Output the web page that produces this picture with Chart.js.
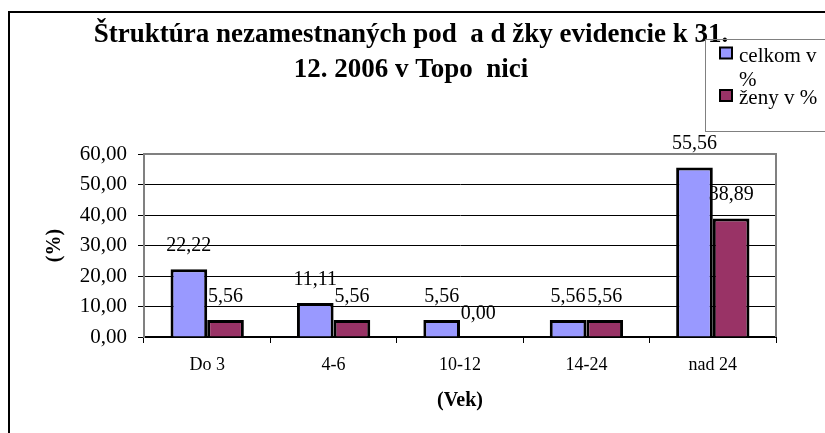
<!DOCTYPE html>
<html lang="sk">
<head>
  <meta charset="UTF-8" />
  <title>Štruktúra nezamestnaných</title>
  <script src="https://cdn.jsdelivr.net/npm/chart.js"></script>
  <style>
    body { margin: 0; background: #FFFFFF; }
    canvas { display: block; }
  </style>
</head>
<body>
  <canvas id="vekChart" width="825" height="433"></canvas>

  <script>
    const categories = ['Do 3', '4-6', '10-12', '14-24', 'nad 24'];
    const celkom = [22.22, 11.11, 5.56, 5.56, 55.56];
    const zeny = [5.56, 5.56, 0.00, 5.56, 38.89];
    const yTicks = [0, 10, 20, 30, 40, 50, 60];
    const titleLines = ['Štruktúra nezamestnaných pod  a d žky evidencie k 31.', '12. 2006 v Topo  nici'];

    const SERIF = "'Liberation Serif', 'Times New Roman', serif";
    const fmt = v => v.toFixed(2).replace('.', ',');

    // outer frame of the chart object + plot area border
    const framePlugin = {
      id: 'frame',
      beforeDraw(chart) {
        const ctx = chart.ctx;
        ctx.save();
        ctx.strokeStyle = '#000';
        ctx.lineWidth = 2;
        ctx.strokeRect(9, 12, 900, 500);
        ctx.restore();
      },
      beforeDatasetsDraw(chart) {
        const { ctx, chartArea: a } = chart;
        ctx.save();
        ctx.strokeStyle = '#808080';
        ctx.lineWidth = 2;
        ctx.beginPath();
        ctx.moveTo(a.left, a.top);
        ctx.lineTo(a.right, a.top);
        ctx.lineTo(a.right, a.bottom);
        ctx.stroke();
        ctx.restore();
      }
    };

    // value labels above bars
    const valueLabels = {
      id: 'valueLabels',
      afterDatasetsDraw(chart) {
        const ctx = chart.ctx;
        ctx.save();
        ctx.font = '20px ' + SERIF;
        ctx.fillStyle = '#000';
        ctx.textAlign = 'center';
        ctx.textBaseline = 'alphabetic';
        chart.data.datasets.forEach((ds, i) => {
          chart.getDatasetMeta(i).data.forEach((bar, j) => {
            ctx.fillText(fmt(ds.data[j]), bar.x, bar.y - 18.5);
          });
        });
        ctx.restore();
      }
    };

    // boxed legend at top right, wrapping its text like the original
    const boxLegend = {
      id: 'boxLegend',
      afterDraw(chart) {
        const ctx = chart.ctx;
        ctx.save();
        ctx.strokeStyle = '#808080';
        ctx.lineWidth = 1;
        ctx.strokeRect(705.5, 39.5, 140, 92);
        ctx.font = '21px ' + SERIF;
        ctx.textBaseline = 'alphabetic';
        ctx.fillStyle = '#000';
        const baselines = [61.5, 104];
        chart.data.datasets.forEach((ds, i) => {
          // wrap words to the space left inside the box
          const words = ds.label.split(' ');
          const lines = [];
          let cur = '';
          words.forEach(w => {
            const t = cur ? cur + ' ' + w : w;
            if (ctx.measureText(t).width > 84 && cur) { lines.push(cur); cur = w; }
            else cur = t;
          });
          lines.push(cur);
          const y = baselines[i];
          ctx.fillStyle = ds.backgroundColor;
          ctx.fillRect(720, y - 14, 12, 11);
          ctx.strokeStyle = '#000';
          ctx.lineWidth = 2;
          ctx.strokeRect(720, y - 14, 12, 11);
          ctx.fillStyle = '#000';
          lines.forEach((l, k) => ctx.fillText(l, 739, y + k * 24.5));
        });
        ctx.restore();
      }
    };

    new Chart(document.getElementById('vekChart'), {
      type: 'bar',
      data: {
        labels: categories,
        datasets: [
          { label: 'celkom v %', data: celkom, backgroundColor: '#9999FF', borderColor: '#000', borderWidth: 3 },
          { label: 'ženy v %', data: zeny, backgroundColor: '#993366', borderColor: '#000', borderWidth: 3 }
        ]
      },
      options: {
        responsive: false,
        animation: false,
        layout: { padding: { left: 46, right: 49, top: 0, bottom: 0 } },
        datasets: { bar: { categoryPercentage: 0.58, barPercentage: 1 } },
        plugins: {
          legend: { display: false },
          tooltip: { enabled: false },
          title: {
            display: true,
            text: titleLines,
            color: '#000',
            font: { family: SERIF, size: 27, weight: 'bold', lineHeight: 1.3 },
            padding: { top: 17, bottom: 66.8 }
          }
        },
        scales: {
          x: {
            afterFit: s => { s.height = 96; },
            grid: { drawOnChartArea: false, drawTicks: true, tickLength: 6, color: '#000' },
            border: { color: '#000', width: 2 },
            ticks: { color: '#000', padding: 11, font: { family: SERIF, size: 18 } },
            title: {
              display: true, text: '(Vek)', color: '#000',
              font: { family: SERIF, size: 20, weight: 'bold' },
              padding: { top: 0, bottom: 20 }
            }
          },
          y: {
            min: 0,
            max: 60,
            afterFit: s => { s.width = 98; },
            afterBuildTicks: s => { s.ticks = yTicks.map(v => ({ value: v })); },
            grid: { color: '#000', lineWidth: 1, tickLength: 6 },
            border: { color: '#808080', width: 2 },
            ticks: { color: '#000', padding: 11, font: { family: SERIF, size: 21 }, callback: v => fmt(v) },
            title: {
              display: true, text: '(%)', color: '#000',
              font: { family: SERIF, size: 20, weight: 'bold' },
              padding: { top: -3, bottom: 0 }
            }
          }
        }
      },
      plugins: [framePlugin, valueLabels, boxLegend]
    });
  </script>
</body>
</html>
